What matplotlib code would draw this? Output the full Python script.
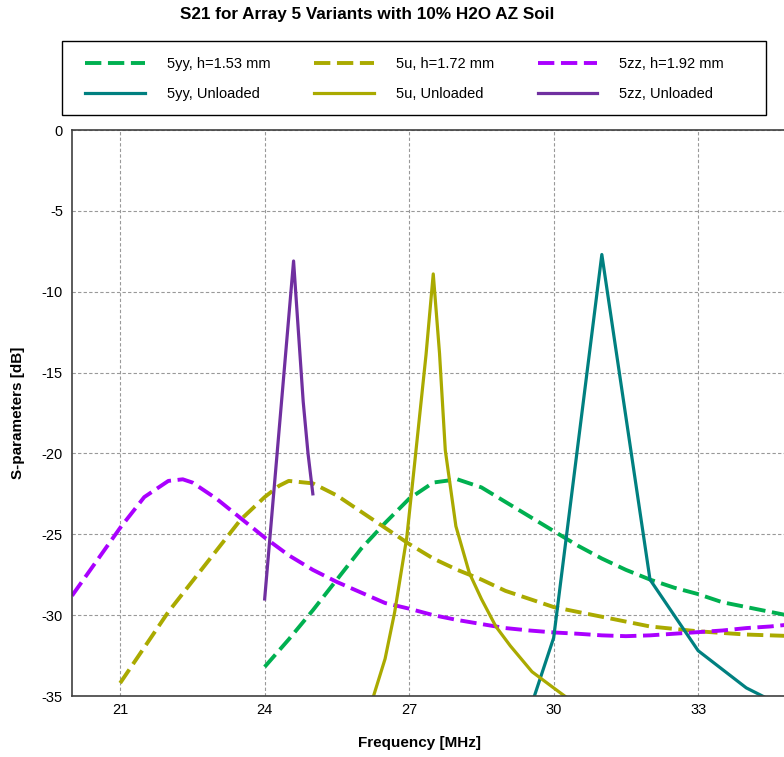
import matplotlib
matplotlib.use('Agg')
import matplotlib.pyplot as plt
from matplotlib.patches import Rectangle

plt.rcParams['font.family'] = ['Liberation Sans', 'DejaVu Sans']
plt.rcParams['axes.unicode_minus'] = False

# loaded (dashed) curves
freq_5yy_h = [24.0, 24.5, 25.0, 25.5, 26.0, 26.5, 27.0, 27.5, 28.0, 28.5, 29.0, 29.5,
              30.0, 30.5, 31.0, 31.5, 32.0, 32.5, 33.0, 33.5, 34.0, 34.5, 35.0]
s21_5yy_h = [-33.2, -31.5, -29.7, -27.8, -25.9, -24.3, -22.8, -21.8, -21.6, -22.1, -23.0, -23.9,
             -24.8, -25.7, -26.5, -27.2, -27.8, -28.3, -28.7, -29.2, -29.5, -29.8, -30.1]

freq_5u_h = [21.0, 21.5, 22.0, 22.5, 23.0, 23.5, 24.0, 24.3, 24.5, 25.0, 25.5, 26.0, 26.5, 27.0,
             27.5, 28.0, 28.5, 29.0, 29.5, 30.0, 30.5, 31.0, 31.5, 32.0, 32.5, 33.0, 33.5, 34.0,
             34.5, 35.0]
s21_5u_h = [-34.2, -32.0, -29.8, -27.9, -26.0, -24.1, -22.7, -22.0, -21.7, -21.85, -22.6, -23.6,
            -24.6, -25.6, -26.5, -27.2, -27.8, -28.5, -29.0, -29.5, -29.8, -30.1, -30.4, -30.7,
            -30.85, -31.0, -31.1, -31.2, -31.25, -31.3]

freq_5zz_h = [20.0, 20.5, 21.0, 21.5, 22.0, 22.3, 22.5, 23.0, 23.5, 24.0, 24.5, 25.0, 25.5, 26.0,
              26.5, 27.0, 27.5, 28.0, 28.5, 29.0, 29.5, 30.0, 30.5, 31.0, 31.5, 32.0, 32.5, 33.0,
              33.5, 34.0, 34.5, 35.0]
s21_5zz_h = [-28.8, -26.7, -24.6, -22.7, -21.7, -21.6, -21.8, -22.8, -24.0, -25.2, -26.3, -27.2,
             -27.95, -28.6, -29.25, -29.6, -30.0, -30.3, -30.55, -30.8, -30.95, -31.07, -31.15,
             -31.25, -31.3, -31.25, -31.15, -31.05, -30.95, -30.8, -30.7, -30.55]

# unloaded (solid) curves
freq_5yy_u = [29.0, 30.0, 31.0, 32.0, 33.0, 34.0, 35.0]
s21_5yy_u = [-40.4, -31.4, -7.7, -27.8, -32.2, -34.5, -36.0]

freq_5u_u = [26.0, 26.5, 26.7, 26.95, 27.1, 27.35, 27.5, 27.63, 27.75, 27.97, 28.25, 28.5,
             28.8, 29.1, 29.55, 30.0, 30.5]
s21_5u_u = [-37.5, -32.7, -29.8, -25.2, -21.0, -13.9, -8.9, -13.8, -19.8, -24.5, -27.4, -29.0,
            -30.7, -31.9, -33.5, -34.5, -35.6]

freq_5zz_u = [24.0, 24.6, 24.8, 24.9, 25.0]
s21_5zz_u = [-29.0, -8.1, -16.8, -20.0, -22.5]

fig = plt.figure(figsize=(7.84, 7.57), dpi=100)
# x axis runs past the right edge of the picture, like the original
ax = fig.add_axes([72/784, 61/757, 722.5/784, 566/757])

dash = (0, (4.2, 1.7))
l1, = ax.plot(freq_5yy_h, s21_5yy_h, color='#00B050', lw=2.8, linestyle=dash, label='5yy, h=1.53 mm')
l2, = ax.plot(freq_5u_h, s21_5u_h, color='#AAAA00', lw=2.8, linestyle=dash, label='5u, h=1.72 mm')
l3, = ax.plot(freq_5zz_h, s21_5zz_h, color='#AA00FF', lw=2.8, linestyle=dash, label='5zz, h=1.92 mm')
l4, = ax.plot(freq_5yy_u, s21_5yy_u, color='#008080', lw=2.3, label='5yy, Unloaded')
l5, = ax.plot(freq_5u_u, s21_5u_u, color='#AAAA00', lw=2.3, label='5u, Unloaded')
l6, = ax.plot(freq_5zz_u, s21_5zz_u, color='#7030A0', lw=2.3, label='5zz, Unloaded')

ax.set_xlim(20, 35)
ax.set_ylim(-35, 0)
ax.set_xticks([21, 24, 27, 30, 33])
ax.set_yticks([0, -5, -10, -15, -20, -25, -30, -35])
ax.tick_params(axis='both', length=0, labelsize=10.5)
ax.tick_params(axis='x', pad=5)
ax.tick_params(axis='y', pad=6.5)
ax.grid(True, color='#999999', linestyle=(0, (3, 2)), lw=0.8)
for s in ax.spines.values():
    s.set_color('#404040')
    s.set_linewidth(1.2)

fig.text(367/784, 1 - 15/757, 'S21 for Array 5 Variants with 10% H2O AZ Soil',
         ha='center', va='center', weight='bold', size=12.3)
fig.text(420/784, 1 - 743/757, 'Frequency [MHz]', ha='center', va='center',
         weight='bold', size=11)
fig.text(18/784, 1 - 413/757, 'S-parameters [dB]', ha='center', va='center',
         weight='bold', size=11, rotation=90)

# legend box drawn separately so its size matches the original
fig.patches.append(Rectangle((62/784, 1 - 115/757), 704/784, 74/757,
                             transform=fig.transFigure, fill=False,
                             edgecolor='black', lw=1.0))
leg = fig.legend(handles=[l1, l4, l2, l5, l3, l6], ncol=3, frameon=False,
                 loc='upper left', bbox_to_anchor=(66/784, 1 - 38/757),
                 bbox_transform=fig.transFigure,
                 handlelength=4.1, handletextpad=1.5, columnspacing=3.0,
                 labelspacing=1.12, borderpad=1.3, borderaxespad=0, fontsize=10.5)

fig.savefig('out.png', dpi=100)
